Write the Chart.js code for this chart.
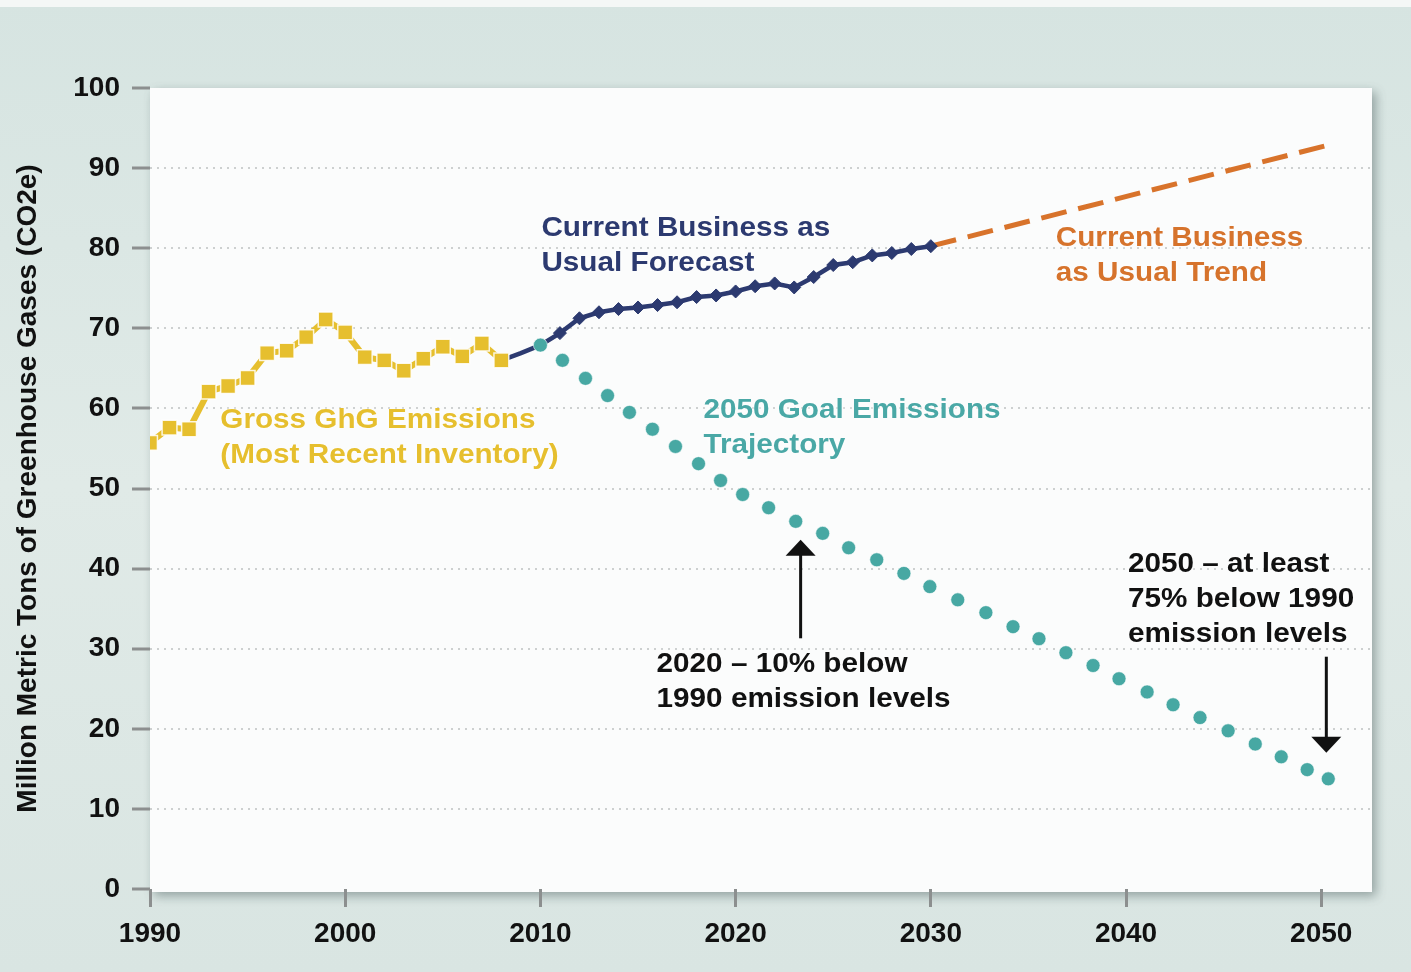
<!DOCTYPE html>
<html lang="en">
<head>
  <meta charset="UTF-8">
  <title>Greenhouse Gas Emissions</title>
  <script src="https://cdn.jsdelivr.net/npm/chart.js@4"></script>
  <style>
    body { margin: 0; background: #dce8e5; }
    #wrap { width: 1411px; height: 972px; }
  </style>
</head>
<body>

<div id="wrap">
  <canvas id="ghgChart" width="1411" height="972"></canvas>
</div>

<script>
  // Gross GhG emissions (most recent inventory), 1990-2008
  const inventoryYears = [1990, 1991, 1992, 1993, 1994, 1995, 1996, 1997, 1998, 1999,
                          2000, 2001, 2002, 2003, 2004, 2005, 2006, 2007, 2008];
  const inventoryValues = [55.7, 57.6, 57.4, 62.1, 62.8, 63.8, 66.9, 67.2, 68.9, 71.1,
                           69.5, 66.4, 66.0, 64.7, 66.2, 67.7, 66.5, 68.1, 66.0];

  // Current business as usual forecast, 2008-2030
  const forecastYears = [2008, 2009, 2010, 2011, 2012, 2013, 2014, 2015, 2016, 2017, 2018, 2019,
                         2020, 2021, 2022, 2023, 2024, 2025, 2026, 2027, 2028, 2029, 2030];
  const forecastValues = [66.0, 66.9, 67.9, 69.4, 71.25, 72.0, 72.4, 72.6, 72.9, 73.25, 73.9, 74.1,
                          74.6, 75.25, 75.6, 75.1, 76.4, 77.9, 78.25, 79.1, 79.4, 79.9, 80.25];

  // Business as usual trend, 2030-2050
  const trendYears = [2030, 2050.4];
  const trendValues = [80.25, 92.9];

  // 2050 goal emissions trajectory
  const goalYears = [2010.0, 2011.13, 2012.31, 2013.44, 2014.56, 2015.74, 2016.92, 2018.1, 2019.23,
                     2020.36, 2021.69, 2023.08, 2024.46, 2025.79, 2027.23, 2028.62, 2029.95, 2031.38,
                     2032.82, 2034.21, 2035.54, 2036.92, 2038.31, 2039.64, 2041.08, 2042.41, 2043.79,
                     2045.23, 2046.62, 2047.95, 2049.28, 2050.36];
  const goalValues = [67.9, 66.0, 63.75, 61.6, 59.5, 57.4, 55.25, 53.1, 51.0,
                      49.25, 47.6, 45.9, 44.4, 42.6, 41.1, 39.4, 37.75, 36.1,
                      34.5, 32.75, 31.25, 29.5, 27.9, 26.25, 24.6, 23.0, 21.4,
                      19.75, 18.1, 16.5, 14.9, 13.75];

  const yTicks = [0, 10, 20, 30, 40, 50, 60, 70, 80, 90, 100];
  const xTicks = [1990, 2000, 2010, 2020, 2030, 2040, 2050];

  // text labels placed in data units (x = year, y = first baseline value)
  const notes = [
    { lines: ['Current Business as', 'Usual Forecast'], x: 2010.05, y: 81.5, color: '#2c3a70' },
    { lines: ['Current Business', 'as Usual Trend'], x: 2036.4, y: 80.25, color: '#d6732c' },
    { lines: ['Gross GhG Emissions', '(Most Recent Inventory)'], x: 1993.6, y: 57.55, color: '#e6bf2e' },
    { lines: ['2050 Goal Emissions', 'Trajectory'], x: 2018.35, y: 58.8, color: '#4aa8a6' },
    { lines: ['2020 \u2013 10% below', '1990 emission levels'], x: 2015.95, y: 27.1, color: '#111111' },
    { lines: ['2050 \u2013 at least', '75% below 1990', 'emission levels'], x: 2040.1, y: 39.55, color: '#111111' }
  ];
  const arrows = [
    { x: 2023.33, from: 31.3, to: 43.6 },
    { x: 2050.26, from: 29.0, to: 17.0 }
  ];

  function toPoints(xs, ys) {
    return xs.map((x, i) => ({ x: x, y: ys[i] }));
  }

  const fontFamily = "'Liberation Sans', Arial, sans-serif";

  // background + white plot panel
  const panelPlugin = {
    id: 'panel',
    beforeDraw(chart) {
      const ctx = chart.ctx;
      const a = chart.chartArea;
      const g = ctx.createLinearGradient(0, 0, 0, chart.height);
      g.addColorStop(0, '#d6e4e1');
      g.addColorStop(0.5, '#e0eae7');
      g.addColorStop(1, '#d9e5e2');
      ctx.save();
      ctx.fillStyle = g;
      ctx.fillRect(0, 0, chart.width, chart.height);
      ctx.fillStyle = '#f4f7f6';
      ctx.fillRect(0, 0, chart.width, 7);
      ctx.shadowColor = 'rgba(60, 80, 80, 0.45)';
      ctx.shadowBlur = 10;
      ctx.shadowOffsetX = 4;
      ctx.shadowOffsetY = 4;
      ctx.fillStyle = '#fbfcfc';
      ctx.fillRect(a.left, a.top, a.right - a.left, a.bottom - a.top + 3);
      ctx.restore();
    }
  };

  // annotation text and arrows
  const notesPlugin = {
    id: 'notes',
    afterDatasetsDraw(chart) {
      const ctx = chart.ctx;
      const xs = chart.scales.x;
      const ys = chart.scales.y;
      ctx.save();
      ctx.font = 'bold 27px ' + fontFamily;
      ctx.textBaseline = 'alphabetic';
      ctx.textAlign = 'left';
      notes.forEach(n => {
        const px = xs.getPixelForValue(n.x);
        const py = ys.getPixelForValue(n.y);
        n.lines.forEach((line, i) => {
          ctx.save();
          ctx.translate(px, py + i * 35);
          ctx.scale(1.1, 1);
          ctx.shadowColor = 'rgba(255,255,255,0.95)';
          ctx.shadowBlur = 6;
          ctx.fillStyle = n.color;
          ctx.fillText(line, 0, 0);
          ctx.restore();
        });
      });

      ctx.strokeStyle = '#111';
      ctx.fillStyle = '#111';
      ctx.lineWidth = 3;
      arrows.forEach(ar => {
        const px = xs.getPixelForValue(ar.x);
        const p0 = ys.getPixelForValue(ar.from);
        const p1 = ys.getPixelForValue(ar.to);
        const dir = p1 < p0 ? 1 : -1;
        ctx.beginPath();
        ctx.moveTo(px, p0);
        ctx.lineTo(px, p1 + dir * 14);
        ctx.stroke();
        ctx.beginPath();
        ctx.moveTo(px, p1);
        ctx.lineTo(px - 15, p1 + dir * 16);
        ctx.lineTo(px + 15, p1 + dir * 16);
        ctx.closePath();
        ctx.fill();
      });
      ctx.restore();
    }
  };

  const ctx = document.getElementById('ghgChart').getContext('2d');

  new Chart(ctx, {
    type: 'line',
    data: {
      datasets: [
        {
          label: '2050 Goal Emissions Trajectory',
          data: toPoints(goalYears, goalValues),
          showLine: false,
          pointStyle: 'circle',
          pointRadius: 7,
          pointBackgroundColor: '#47a8a3',
          pointBorderColor: 'rgba(255,255,255,0.6)',
          pointBorderWidth: 1
        },
        {
          label: 'Gross GhG Emissions',
          data: toPoints(inventoryYears, inventoryValues),
          borderColor: '#e6bf2e',
          borderWidth: 6,
          pointStyle: 'rect',
          pointRadius: 10.5,
          pointBackgroundColor: '#e6bf2e',
          pointBorderColor: 'rgba(255,255,255,0.85)',
          pointBorderWidth: 1.5
        },
        {
          label: 'Current Business as Usual Forecast',
          data: toPoints(forecastYears, forecastValues),
          borderColor: '#2c3a70',
          borderWidth: 4.5,
          pointStyle: 'rectRot',
          pointRadius: forecastYears.map(y => y > 2010 ? 6.5 : 0),
          pointBackgroundColor: '#2c3a70',
          pointBorderColor: '#2c3a70',
          pointBorderWidth: 1
        },
        {
          label: 'Current Business as Usual Trend',
          data: toPoints(trendYears, trendValues),
          borderColor: '#d8732b',
          borderWidth: 5,
          borderDash: [26, 12],
          pointRadius: 0
        }
      ]
    },
    options: {
      responsive: false,
      animation: false,
      layout: { padding: { top: 88, right: 39, left: 0, bottom: 0 } },
      plugins: {
        legend: { display: false },
        tooltip: { enabled: false }
      },
      scales: {
        x: {
          type: 'linear',
          min: 1990,
          max: 2052.6,
          afterFit: scale => { scale.height = 83; },
          afterBuildTicks: scale => { scale.ticks = xTicks.map(v => ({ value: v })); },
          border: { display: false },
          grid: {
            drawOnChartArea: false,
            drawTicks: true,
            tickLength: 18,
            tickWidth: 3,
            tickColor: '#8c8f8f'
          },
          ticks: {
            padding: 10,
            color: '#111',
            font: { family: fontFamily, size: 28, weight: 'bold' },
            callback: v => String(v)
          }
        },
        y: {
          min: 0,
          max: 100,
          afterFit: scale => { scale.width = 150; },
          afterBuildTicks: scale => { scale.ticks = yTicks.map(v => ({ value: v })); },
          border: { display: false, dash: [2, 5] },
          grid: {
            color: ctx => (ctx.tick && (ctx.tick.value === 0 || ctx.tick.value === 100)) ? 'rgba(0,0,0,0)' : '#cdd0d0',
            lineWidth: 2,
            drawTicks: true,
            tickLength: 18,
            tickWidth: 3,
            tickColor: '#8c8f8f',
            tickBorderDash: []
          },
          ticks: {
            padding: 12,
            color: '#111',
            font: { family: fontFamily, size: 28, weight: 'bold' }
          },
          title: {
            display: true,
            text: 'Million Metric Tons of Greenhouse Gases (CO2e)',
            color: '#111',
            font: { family: fontFamily, size: 28, weight: 'bold' },
            padding: { top: 11, bottom: 0 }
          }
        }
      }
    },
    plugins: [panelPlugin, notesPlugin]
  });
</script>

</body>
</html>
